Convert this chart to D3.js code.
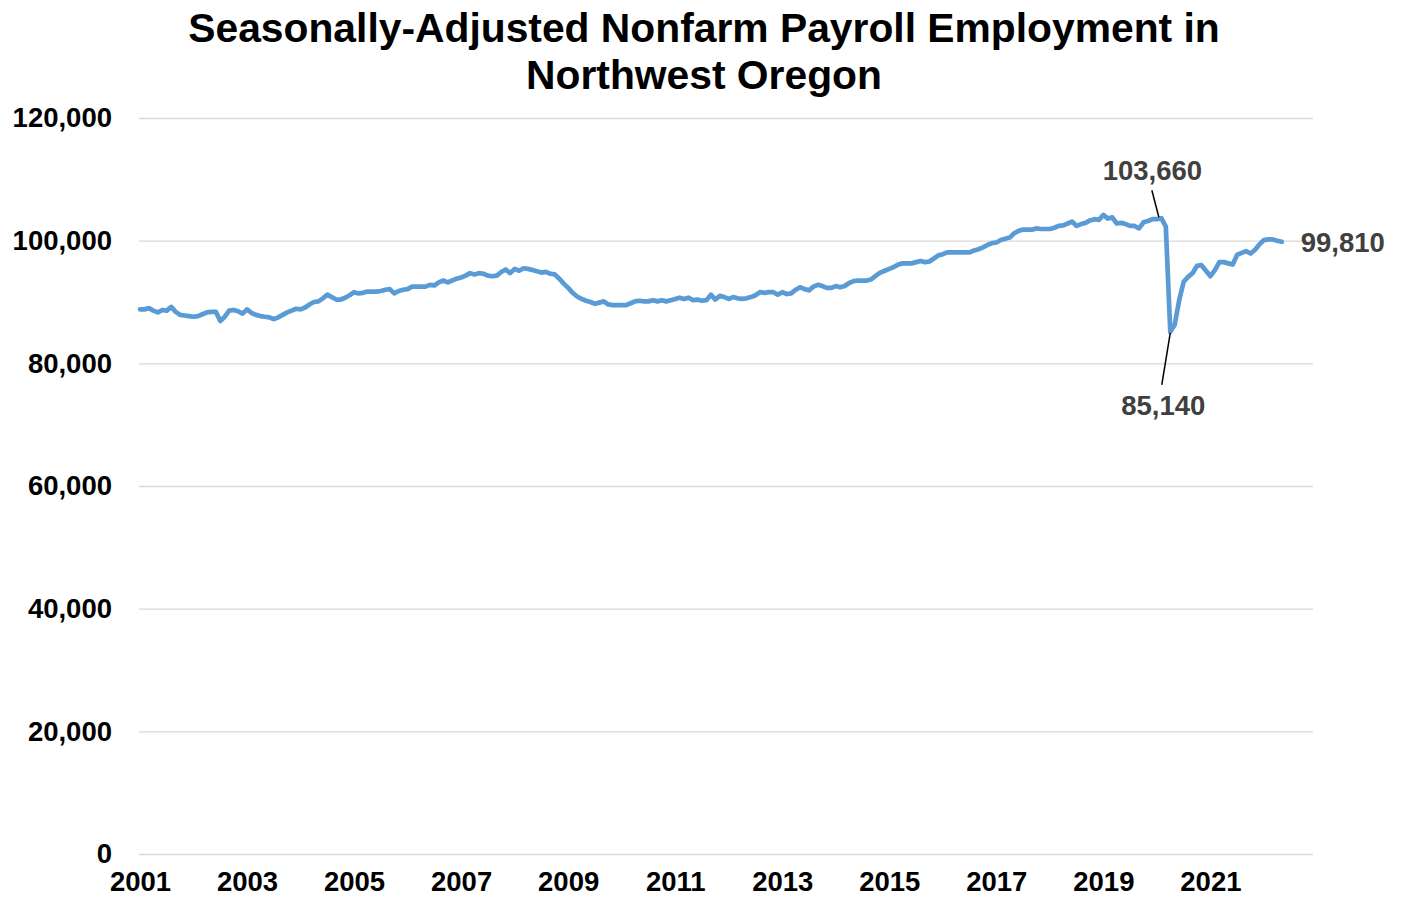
<!DOCTYPE html>
<html>
<head>
<meta charset="utf-8">
<script src="https://cdn.jsdelivr.net/npm/d3@7"></script>
<style>
  html, body { margin: 0; padding: 0; background: #ffffff; }
  svg { display: block; font-family: "Liberation Sans", Arial, sans-serif; }
</style>
</head>
<body>
<svg id="chart" width="1404" height="899"></svg>
<script>
// ---- Data (monthly, Jan 2001 - May 2022) ----
const startYear = 2001;
const categoryCount = 264; // Jan 2001 - Dec 2022 category slots
const values2001 = [88800, 88800, 89000, 88600, 88300, 88700, 88600, 89200, 88400, 87900, 87800, 87700];
const values2002 = [87600, 87700, 88000, 88300, 88400, 88400, 86900, 87600, 88600, 88700, 88500, 88100];
const values2003 = [88800, 88200, 87900, 87700, 87600, 87500, 87200, 87500, 87900, 88300, 88600, 88900];
const values2004 = [88800, 89100, 89600, 90000, 90100, 90600, 91200, 90800, 90400, 90400, 90700, 91100];
const values2005 = [91600, 91400, 91500, 91700, 91700, 91700, 91800, 92000, 92100, 91400, 91800, 92000];
const values2006 = [92100, 92500, 92500, 92500, 92500, 92800, 92700, 93200, 93500, 93200, 93500, 93800];
const values2007 = [94000, 94300, 94700, 94500, 94700, 94600, 94300, 94200, 94300, 94900, 95300, 94700];
const values2008 = [95400, 95100, 95500, 95400, 95200, 95000, 94800, 94900, 94600, 94500, 93800, 93000];
const values2009 = [92300, 91500, 90900, 90500, 90200, 90000, 89700, 89900, 90100, 89600, 89500, 89500];
const values2010 = [89500, 89500, 89800, 90100, 90200, 90100, 90100, 90300, 90100, 90300, 90100, 90300];
const values2011 = [90500, 90700, 90500, 90700, 90300, 90400, 90200, 90300, 91200, 90400, 91000, 90800];
const values2012 = [90500, 90800, 90600, 90500, 90600, 90800, 91100, 91600, 91500, 91600, 91600, 91200];
const values2013 = [91600, 91300, 91400, 92000, 92400, 92100, 91900, 92500, 92800, 92600, 92300, 92300];
const values2014 = [92600, 92400, 92600, 93100, 93400, 93500, 93500, 93500, 93700, 94300, 94800, 95100];
const values2015 = [95400, 95700, 96100, 96300, 96300, 96300, 96500, 96700, 96500, 96600, 97100, 97600];
const values2016 = [97800, 98100, 98100, 98100, 98100, 98100, 98100, 98400, 98600, 98900, 99300, 99600];
const values2017 = [99700, 100100, 100300, 100500, 101200, 101600, 101800, 101800, 101800, 102000, 101900, 101900];
const values2018 = [101900, 102100, 102400, 102500, 102800, 103100, 102400, 102700, 102900, 103300, 103500, 103400];
const values2019 = [104200, 103600, 103800, 102800, 102900, 102700, 102400, 102400, 102000, 103000, 103200, 103500];
const values2020 = [103500, 103660, 102300, 85140, 86300, 90300, 93300, 94100, 94700, 95900, 96000, 95100];
const values2021 = [94200, 95200, 96500, 96500, 96300, 96100, 97700, 98000, 98300, 97900, 98500, 99400];
const values2022 = [100100, 100200, 100200, 100000, 99810];

const yTickValues = [0, 20000, 40000, 60000, 80000, 100000, 120000];
const xTickLabels = ["2001", "2003", "2005", "2007", "2009", "2011", "2013", "2015", "2017", "2019", "2021"];
const titleLines = ["Seasonally-Adjusted Nonfarm Payroll Employment in", "Northwest Oregon"];
const annotations = [
  { label: "103,660", index: 229, value: 103660 },
  { label: "85,140", index: 231, value: 85140 },
  { label: "99,810", index: 256, value: 99810 }
];

const series = [].concat(values2001, values2002, values2003, values2004, values2005, values2006,
  values2007, values2008, values2009, values2010, values2011, values2012, values2013, values2014,
  values2015, values2016, values2017, values2018, values2019, values2020, values2021, values2022);

// ---- Layout ----
const svg = d3.select("#chart");
const plot = { left: 140, right: 1313, top: 118, bottom: 854 };

const x = d3.scaleLinear().domain([0, categoryCount - 1]).range([plot.left, plot.right]);
const y = d3.scaleLinear().domain([0, 120000]).range([plot.bottom, plot.top]);

// Title
svg.append("g").selectAll("text").data(titleLines).join("text")
  .attr("x", 704).attr("y", (d, i) => 42 + i * 47)
  .attr("text-anchor", "middle")
  .attr("font-size", 40.8).attr("font-weight", "bold").attr("fill", "#000")
  .text(d => d);

// Y axis with gridlines
const yAxis = svg.append("g")
  .attr("transform", `translate(${plot.left},0)`)
  .call(d3.axisLeft(y).tickValues(yTickValues).tickFormat(d3.format(","))
    .tickSize(-(plot.right - plot.left)).tickPadding(28));
yAxis.select(".domain").remove();
yAxis.selectAll(".tick line").attr("stroke", "#D9D9D9").attr("stroke-width", 1.3).attr("x1", -1);
yAxis.selectAll(".tick text")
  .attr("font-size", 27.5).attr("font-weight", "bold").attr("fill", "#000")
  .attr("font-family", "Liberation Sans, Arial, sans-serif");

// X axis labels
const xTickIdx = xTickLabels.map(l => (+l - startYear) * 12);
const xAxis = svg.append("g")
  .attr("transform", `translate(0,${plot.bottom})`)
  .call(d3.axisBottom(x).tickValues(xTickIdx)
    .tickFormat((d, i) => xTickLabels[i]).tickSize(0).tickPadding(17));
xAxis.select(".domain").remove();
xAxis.selectAll(".tick text")
  .attr("font-size", 27.5).attr("font-weight", "bold").attr("fill", "#000")
  .attr("font-family", "Liberation Sans, Arial, sans-serif");

// Line
const line = d3.line().x((d, i) => x(i)).y(d => y(d));
svg.append("path").datum(series)
  .attr("fill", "none").attr("stroke", "#5B9BD5").attr("stroke-width", 4.7)
  .attr("stroke-linejoin", "round").attr("stroke-linecap", "round")
  .attr("d", line);

// Annotations
const labelStyle = sel => sel.attr("font-size", 27.5).attr("font-weight", "bold").attr("fill", "#404040");
const a0 = annotations[0], a1 = annotations[1], a2 = annotations[2];
// peak
svg.append("line").attr("x1", x(a0.index) - 9.5).attr("y1", y(a0.value) - 28)
  .attr("x2", x(a0.index) - 2.5).attr("y2", y(a0.value) - 1).attr("stroke", "#000").attr("stroke-width", 1.5);
svg.append("text").attr("x", x(a0.index) - 9).attr("y", y(a0.value) - 38)
  .attr("text-anchor", "middle").call(labelStyle).text(a0.label);
// trough
svg.append("line").attr("x1", x(a1.index)).attr("y1", y(a1.value) + 1)
  .attr("x2", x(a1.index) - 8.5).attr("y2", y(a1.value) + 53).attr("stroke", "#000").attr("stroke-width", 1.5);
svg.append("text").attr("x", x(a1.index) - 7).attr("y", y(a1.value) + 83)
  .attr("text-anchor", "middle").call(labelStyle).text(a1.label);
// last
svg.append("text").attr("x", x(a2.index) + 19).attr("y", y(a2.value) + 10)
  .attr("text-anchor", "start").call(labelStyle).text(a2.label);
</script>
</body>
</html>
